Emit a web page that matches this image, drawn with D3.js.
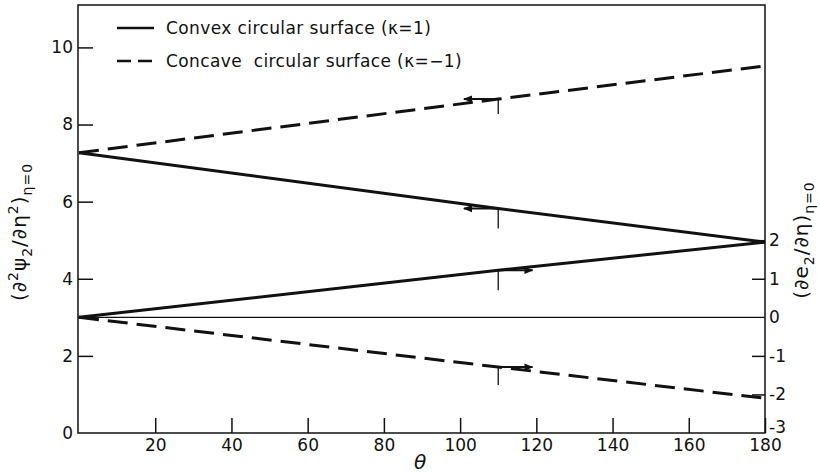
<!DOCTYPE html>
<html lang="en">
  <head>
    <meta charset="UTF-8" />
    <title>Surface derivatives vs theta</title>
    <script src="https://d3js.org/d3.v7.min.js"></script>
    <style>
      body {
        margin: 0;
        background: #fff;
      }
      svg text {
        font-family: "DejaVu Sans", sans-serif;
        fill: #111;
      }
      .tick line {
        stroke: #111;
        stroke-width: 1.5;
      }
    </style>
  </head>
  <body>
    <div id="chart"></div>
    <script>
      // values (theta in degrees)
      const thetas = [0, 110, 180];
      // left axis (d2psi2/deta2)
      const convexPsi = [7.27, 5.82, 4.95];
      const concavePsi = [7.27, 8.66, 9.52];
      // right axis (de2/deta)
      const convexE = [0, 1.22, 1.95];
      const concaveE = [0, -1.29, -2.1];

      const xTicks = [20, 40, 60, 80, 100, 120, 140, 160, 180];
      const leftTicks = [0, 2, 4, 6, 8, 10];
      const rightTicks = [-3, -2, -1, 0, 1, 2];

      const legendLabels = [
        "Convex circular surface (\u03ba=1)",
        "Concave\u00a0 circular surface (\u03ba=\u22121)"
      ];

      const W = 820,
        H = 473;
      const plot = { left: 78, right: 765, top: 5, bottom: 433 };

      const svg = d3
        .select("#chart")
        .append("svg")
        .attr("width", W)
        .attr("height", H);

      const x = d3.scaleLinear().domain([0, 180]).range([79, plot.right]);
      const yL = d3.scaleLinear().domain([0, 11.1]).range([plot.bottom, plot.top]);
      const yR = d3.scaleLinear().domain([-3, 8.1]).range([plot.bottom, plot.top]);

      // frame
      svg
        .append("rect")
        .attr("x", plot.left)
        .attr("y", plot.top)
        .attr("width", plot.right - plot.left)
        .attr("height", plot.bottom - plot.top)
        .attr("fill", "none")
        .attr("stroke", "#111")
        .attr("stroke-width", 1.5);

      // zero line of right axis
      svg
        .append("line")
        .attr("x1", plot.left)
        .attr("x2", plot.right)
        .attr("y1", yR(0))
        .attr("y2", yR(0))
        .attr("stroke", "#111")
        .attr("stroke-width", 1.2);

      // axes, ticks pointing inwards
      const gx = svg
        .append("g")
        .attr("transform", `translate(0,${plot.bottom})`)
        .call(
          d3.axisBottom(x).tickValues(xTicks).tickSizeInner(-15).tickSizeOuter(0).tickPadding(6)
        );
      const gl = svg
        .append("g")
        .attr("transform", `translate(${plot.left},0)`)
        .call(
          d3.axisLeft(yL).tickValues(leftTicks).tickSizeInner(-15).tickSizeOuter(0).tickPadding(5)
        );
      const gr = svg
        .append("g")
        .attr("transform", `translate(${plot.right},0)`)
        .call(
          d3.axisRight(yR).tickValues(rightTicks).tickSizeInner(-13).tickSizeOuter(0).tickPadding(4)
        );

      [gx, gl, gr].forEach((g) => {
        g.select(".domain").remove();
        g.selectAll("text").style("font-size", "17px").style("font-family", "DejaVu Sans, sans-serif");
      });
      gl.selectAll(".tick").filter((d) => d === 0).select("line").remove();
      gr.selectAll(".tick")
        .filter((d) => d === -3 || d === 0)
        .select("line")
        .remove();
      gr.selectAll(".tick text")
        .text((d) => (d < 0 ? "-" + Math.abs(d) : d))
        .attr("dy", (d) => (d === -3 ? "-0.05em" : "0.32em"));

      // series
      const seriesList = [
        { vals: convexPsi, y: yL, dash: null, dir: -1, tick: 20 },
        { vals: concavePsi, y: yL, dash: "20,9", dir: -1, tick: 15 },
        { vals: convexE, y: yR, dash: null, dir: 1, tick: 20 },
        { vals: concaveE, y: yR, dash: "20,9", dir: 1, tick: 18 }
      ];

      svg
        .append("defs")
        .append("marker")
        .attr("id", "head")
        .attr("viewBox", "0 0 10 10")
        .attr("refX", 9)
        .attr("refY", 5)
        .attr("markerWidth", 4.5)
        .attr("markerHeight", 4.5)
        .attr("orient", "auto")
        .append("path")
        .attr("d", "M0,1 L10,5 L0,9 Z")
        .attr("fill", "#111");

      seriesList.forEach((s) => {
        const pts = thetas.map((t, i) => [t, s.vals[i]]);
        svg
          .append("path")
          .datum(pts)
          .attr("fill", "none")
          .attr("stroke", "#111")
          .attr("stroke-width", 3)
          .attr("stroke-dasharray", s.dash)
          .attr(
            "d",
            d3
              .line()
              .x((d) => x(d[0]))
              .y((d) => s.y(d[1]))
          );

        // axis pointer at theta = 110
        const px = x(thetas[1]);
        const py = s.y(s.vals[1]);
        svg
          .append("line")
          .attr("x1", px)
          .attr("x2", px)
          .attr("y1", py)
          .attr("y2", py + s.tick)
          .attr("stroke", "#111")
          .attr("stroke-width", 1.3);
        svg
          .append("line")
          .attr("x1", px)
          .attr("x2", x(thetas[1] + s.dir * 9))
          .attr("y1", py)
          .attr("y2", py)
          .attr("stroke", "#111")
          .attr("stroke-width", 2)
          .attr("marker-end", "url(#head)");
      });

      // legend
      const legend = svg.append("g");
      legendLabels.forEach((label, i) => {
        const ly = 28 + i * 33;
        legend
          .append("line")
          .attr("x1", 117)
          .attr("x2", 154)
          .attr("y1", ly)
          .attr("y2", ly)
          .attr("stroke", "#111")
          .attr("stroke-width", 2.5)
          .attr("stroke-dasharray", i === 0 ? null : "14,7");
        legend
          .append("text")
          .attr("x", 166)
          .attr("y", ly)
          .attr("dy", "0.35em")
          .style("font-size", "17px")
          .style("letter-spacing", "0.4px")
          .text(label);
      });

      // axis titles
      const leftTitle = svg
        .append("text")
        .attr("transform", `translate(26,232) rotate(-90)`)
        .attr("text-anchor", "middle")
        .style("font-size", "20px")
        .style("letter-spacing", "1px");
      leftTitle.append("tspan").text("(\u2202");
      leftTitle.append("tspan").attr("dy", -8).style("font-size", "14px").text("2");
      leftTitle.append("tspan").attr("dy", 8).text("\u03c8");
      leftTitle.append("tspan").attr("dy", 6).style("font-size", "14px").text("2");
      leftTitle.append("tspan").attr("dy", -6).text("/\u2202\u03b7");
      leftTitle.append("tspan").attr("dy", -8).style("font-size", "14px").text("2");
      leftTitle.append("tspan").attr("dy", 8).text(")");
      leftTitle.append("tspan").attr("dy", 6).style("font-size", "14px").text("\u03b7=0");

      const rightTitle = svg
        .append("text")
        .attr("transform", `translate(808,240) rotate(-90)`)
        .attr("text-anchor", "middle")
        .style("font-size", "20px")
        .style("letter-spacing", "1px");
      rightTitle.append("tspan").text("(\u2202e");
      rightTitle.append("tspan").attr("dy", 6).style("font-size", "14px").text("2");
      rightTitle.append("tspan").attr("dy", -6).text("/\u2202\u03b7)");
      rightTitle.append("tspan").attr("dy", 6).style("font-size", "14px").text("\u03b7=0");

      svg
        .append("text")
        .attr("x", 420)
        .attr("y", 469)
        .attr("text-anchor", "middle")
        .style("font-size", "20px")
        .style("font-style", "italic")
        .text("\u03b8");
    </script>
  </body>
</html>
